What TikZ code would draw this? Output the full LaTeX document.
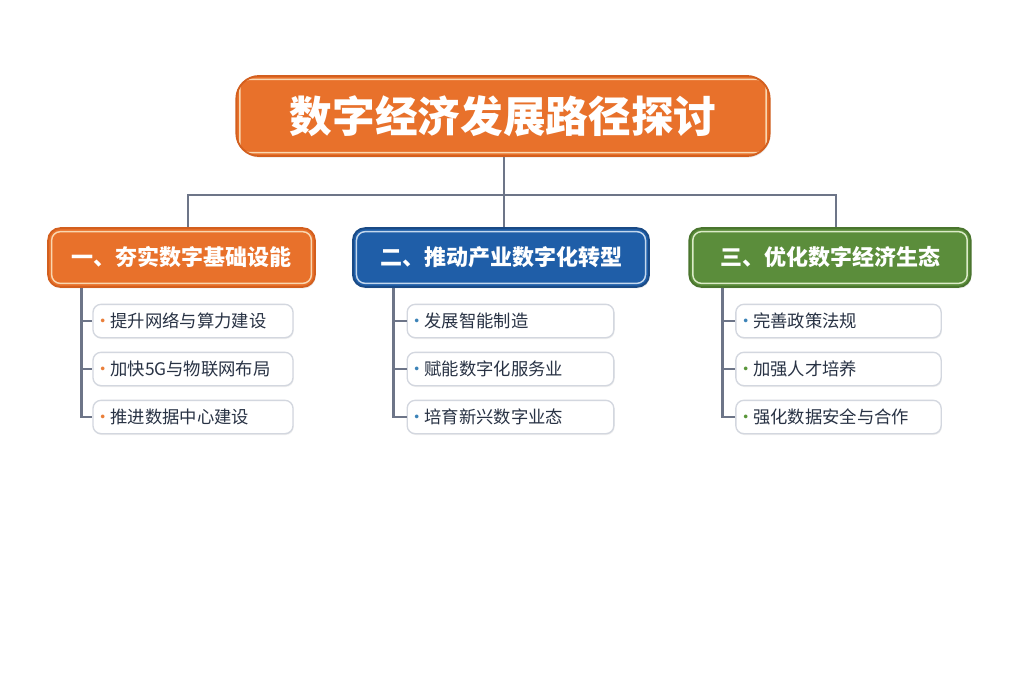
\documentclass[tikz,border=0pt]{standalone}
\usepackage{fontspec}
\setmainfont{Noto Sans CJK SC}
\usetikzlibrary{shadows}
\definecolor{orgF}{HTML}{E8712B}
\definecolor{orgD}{HTML}{D35F1E}
\definecolor{orgL}{HTML}{F9D7B0}
\definecolor{bluF}{HTML}{1F5EA8}
\definecolor{bluD}{HTML}{1A4A85}
\definecolor{bluL}{HTML}{C4D8EE}
\definecolor{grnF}{HTML}{5B8D3B}
\definecolor{grnD}{HTML}{4A752E}
\definecolor{grnL}{HTML}{DCEBC8}
\definecolor{linegray}{HTML}{6D7588}
\definecolor{subtext}{HTML}{283244}
\definecolor{subframe}{HTML}{D3D7DF}
\definecolor{dotblue}{HTML}{3C83B8}
\definecolor{dotgreen}{HTML}{5A963A}
\definecolor{dotorg}{HTML}{EA7F3A}
\newcommand\itemdot[1]{\makebox[7pt]{\textcolor{#1}{\textbullet}}\hspace{2pt}}
\tikzset{
	conn/.style={draw=linegray, line width=2.2pt},
	headbox/.style={rounded corners=9pt, fill=#1F, draw=#1D, line width=1.4pt,
		text=white, font=\bfseries\fontsize{16.5}{18}\selectfont,
		minimum height=44pt, inner sep=0pt,
		drop shadow={opacity=.18, shadow xshift=.6pt, shadow yshift=-1.2pt},
		path picture={\draw[#1L, line width=1.1pt, rounded corners=6.5pt]
			([shift={(2.6pt,2.6pt)}]path picture bounding box.south west) rectangle
			([shift={(-2.6pt,-2.6pt)}]path picture bounding box.north east);}},
	titlebox/.style={headbox=#1, rounded corners=17pt,
		font=\bfseries\fontsize{32}{38}\selectfont,
		minimum width=400pt, minimum height=60pt},
	subbox/.style={rounded corners=6pt, draw=subframe, line width=1pt, fill=white,
		text=subtext, font=\fontsize{13}{15}\selectfont,
		minimum height=25pt, inner xsep=4pt, inner ysep=0pt, align=left,
		drop shadow={opacity=.12, shadow xshift=.5pt, shadow yshift=-1pt}}
}
\begin{document}
\begin{tikzpicture}[x=0.75pt, y=-0.75pt]
	%canvas
	\fill[white] (0,0) rectangle (1024,683);
	\useasboundingbox (0,0) rectangle (1024,683);
	%bus
	\coordinate (bus) at (504,195);
	\draw[conn] (504,150) -- (bus);
	\draw[conn] (188,235) |- (bus) -| (836,235);
	\draw[conn] (bus) -- (504,235);
	%title
	\node[titlebox=org] (title) at (503,116) {数字经济发展路径探讨};
	%sections
	\node[headbox=org, minimum width=200pt] (h1) at (181.5,257.5) {一、夯实数字基础设能};
	\node[headbox=blu, minimum width=222pt] (h2) at (501,257.5) {二、推动产业数字化转型};
	\node[headbox=grn, minimum width=211pt] (h3) at (830,257.5) {三、优化数字经济生态};
	%column lines
	\coordinate (t1) at ([xshift=25.5pt]h1.south west);
	\coordinate (t2) at ([xshift=31pt]h2.south west);
	\coordinate (t3) at ([xshift=25.5pt]h3.south west);
	%items
	\foreach \txt [count=\i] in {提升网络与算力建设,加快5G与物联网布局,推进数据中心建设}
	\node[subbox, text width=142pt] (s1\i) at (193,{321+48*(\i-1)}) {\itemdot{dotorg}\txt};
	\foreach \txt [count=\i] in {发展智能制造,赋能数字化服务业,培育新兴数字业态}
	\node[subbox, text width=147pt] (s2\i) at (510.5,{321+48*(\i-1)}) {\itemdot{dotblue}\txt};
	\foreach \txt/\dc [count=\i] in {完善政策法规/dotblue,加强人才培养/dotgreen,强化数据安全与合作/dotgreen}
	\node[subbox, text width=146pt] (s3\i) at (838.5,{321+48*(\i-1)}) {\itemdot{\dc}\txt};
	%branches
	\foreach \c in {1,2,3}{
		\draw[conn] (t\c) |- (s\c3.west);
		\draw[conn] (t\c |- s\c1.west) -- (s\c1.west);
		\draw[conn] (t\c |- s\c2.west) -- (s\c2.west);
	}
\end{tikzpicture}
\end{document}
